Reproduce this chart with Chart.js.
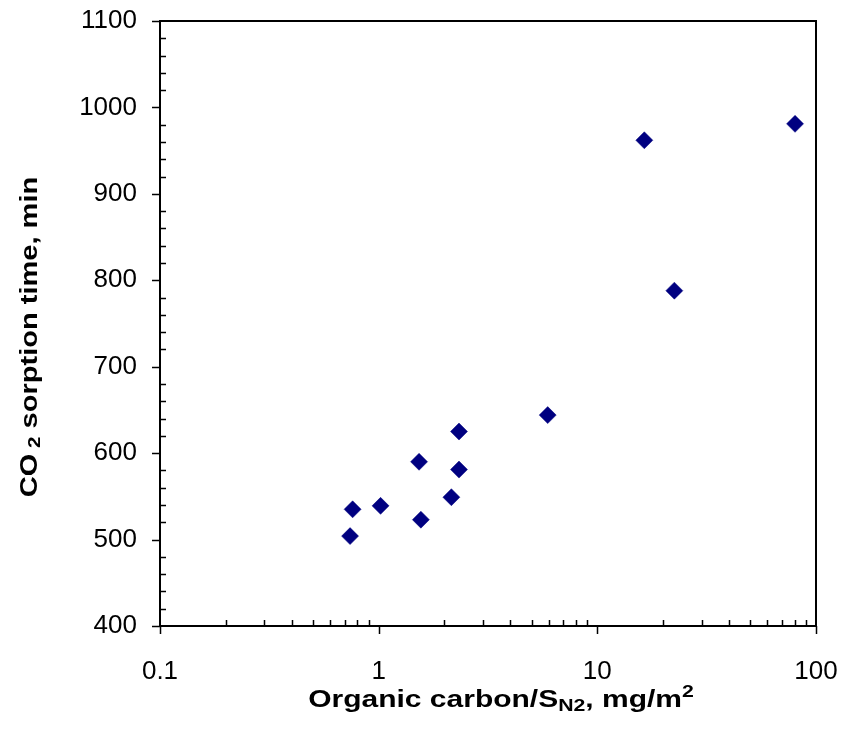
<!DOCTYPE html>
<html>
<head>
<meta charset="utf-8">
<script src="https://cdn.jsdelivr.net/npm/chart.js@4.4.1/dist/chart.umd.min.js"></script>
<style>
  html, body { margin: 0; padding: 0; background: #fff; }
  #wrap { width: 846px; height: 730px; }
</style>
</head>
<body>
<div id="wrap"><canvas id="myChart" width="846" height="730"></canvas></div>
<script>
// organic carbon / S_N2 (mg/m2) and CO2 sorption time (min)
let carbonValues = [0.74, 0.76, 1.02, 1.53, 1.56, 2.15, 2.33, 2.33, 5.93, 16.4, 22.5, 80.2],
  sorptionTimes = [504, 535, 539, 590, 523, 549, 581, 625, 644, 962, 788, 981],
  xTickLabels = [0.1, 1, 10, 100],
  yTickLabels = [400, 500, 600, 700, 800, 900, 1000, 1100],
  pointColor = "#000080",
  fontFamily = "'Liberation Sans', Arial, sans-serif";

let points = carbonValues.map((x, i) => ({ x: x, y: sorptionTimes[i] }));

// draws a line of text made of parts with their own size / offset,
// stretched sideways like the original picture
function drawParts(ctx, parts, x, y, stretch) {
  let total = 0;
  parts.forEach((p) => {
    ctx.font = `bold ${p.size}px ${fontFamily}`;
    p.w = ctx.measureText(p.t).width;
    total += p.w;
  });
  ctx.save();
  ctx.translate(x, y);
  ctx.scale(stretch, 1);
  let cx = -total / 2;
  parts.forEach((p) => {
    ctx.font = `bold ${p.size}px ${fontFamily}`;
    ctx.fillText(p.t, cx, p.dy || 0);
    cx += p.w;
  });
  ctx.restore();
}

function noPadding(scale) {
  scale.paddingLeft = 0;
  scale.paddingRight = 0;
  scale.paddingTop = 0;
  scale.paddingBottom = 0;
}

const frameAndTicks = {
  id: "frameAndTicks",
  afterDraw(chart) {
    const ctx = chart.ctx;
    const area = chart.chartArea;
    const xs = chart.scales.x;
    const ys = chart.scales.y;
    ctx.save();
    ctx.strokeStyle = "#000";
    ctx.lineWidth = 1.5;
    // y ticks: major outward, minor inward
    ctx.beginPath();
    for (let v = 400; v <= 1100; v += 20) {
      let py = Math.round(ys.getPixelForValue(v)) + 0.5;
      if (v % 100 == 0) {
        ctx.moveTo(area.left - 8, py);
        ctx.lineTo(area.left, py);
      } else {
        ctx.moveTo(area.left, py);
        ctx.lineTo(area.left + 6, py);
      }
    }
    // x ticks: decades outward, 2..9 inward
    xTickLabels.forEach((d, i) => {
      let px = Math.round(xs.getPixelForValue(d)) + 0.5;
      ctx.moveTo(px, area.bottom);
      ctx.lineTo(px, area.bottom + 8);
      if (i < xTickLabels.length - 1) {
        for (let m = 2; m <= 9; m++) {
          let mx = Math.round(xs.getPixelForValue(d * m)) + 0.5;
          ctx.moveTo(mx, area.bottom);
          ctx.lineTo(mx, area.bottom - 6);
        }
      }
    });
    ctx.stroke();
    // frame
    ctx.lineWidth = 2;
    ctx.strokeRect(area.left, area.top, area.right - area.left, area.bottom - area.top);

    // axis titles
    ctx.fillStyle = "#000";
    ctx.textBaseline = "alphabetic";
    ctx.textAlign = "left";
    drawParts(ctx, [
      { t: "Organic carbon/S", size: 24 },
      { t: "N2", size: 17, dy: 4 },
      { t: ", mg/m", size: 24 },
      { t: "2", size: 17, dy: -10 },
    ], 501, 707, 1.25);
    ctx.translate(37, 337);
    ctx.rotate(-Math.PI / 2);
    drawParts(ctx, [
      { t: "CO", size: 24 },
      { t: " 2", size: 17, dy: 3 },
      { t: " sorption time, min", size: 24 },
    ], 0, 0, 1.21);
    ctx.restore();
  },
};

var ctx = document.getElementById("myChart").getContext("2d");
var myChart = new Chart(ctx, {
  type: "scatter",
  data: {
    datasets: [
      {
        data: points,
        pointStyle: "rectRot",
        pointRadius: 8.5,
        pointBackgroundColor: pointColor,
        pointBorderColor: pointColor,
        pointBorderWidth: 0.5,
      },
    ],
  },
  options: {
    responsive: false,
    animation: false,
    layout: { padding: { top: 21, right: 30, left: 0, bottom: 0 } },
    plugins: {
      legend: { display: false },
      tooltip: { enabled: false },
    },
    scales: {
      x: {
        type: "logarithmic",
        min: 0.1,
        max: 100,
        grid: { display: false },
        border: { display: false },
        afterBuildTicks: (scale) => {
          scale.ticks = xTickLabels.map((v) => ({ value: v, major: true }));
        },
        afterFit: (scale) => {
          scale.height = 104;
          noPadding(scale);
        },
        ticks: {
          autoSkip: false,
          maxRotation: 0,
          padding: 22,
          color: "#000",
          font: { family: fontFamily, size: 26 },
          callback: (value) => String(value),
        },
      },
      y: {
        min: 400,
        max: 1100,
        grid: { display: false },
        border: { display: false },
        afterBuildTicks: (scale) => {
          scale.ticks = yTickLabels.map((v) => ({ value: v }));
        },
        afterFit: (scale) => {
          scale.width = 160;
          noPadding(scale);
        },
        ticks: {
          padding: 15,
          color: "#000",
          font: { family: fontFamily, size: 26 },
          callback: (value) => String(value),
        },
      },
    },
  },
  plugins: [frameAndTicks],
});
</script>
</body>
</html>
